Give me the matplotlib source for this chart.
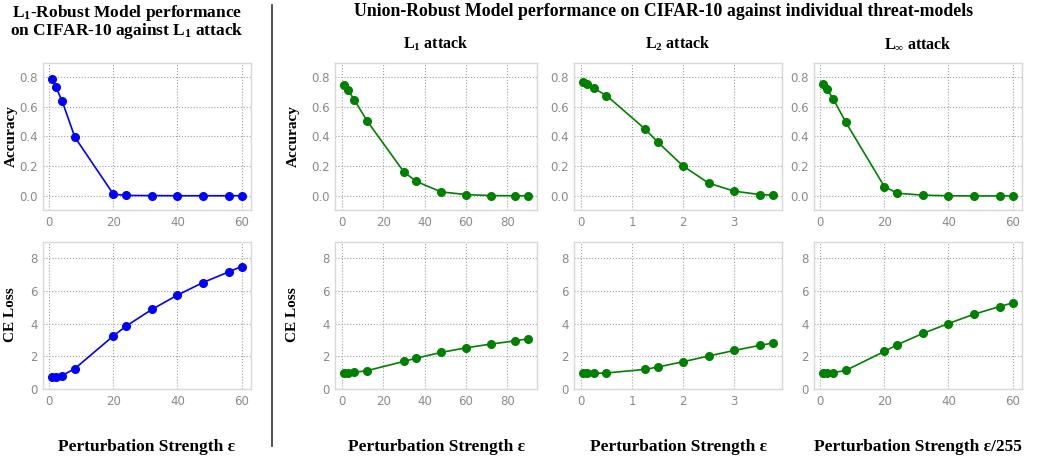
import numpy as np
import matplotlib
matplotlib.use("Agg")
import matplotlib.pyplot as plt

plt.rcParams['mathtext.fontset'] = 'custom'
plt.rcParams['mathtext.rm'] = 'Liberation Serif:bold'
plt.rcParams['mathtext.it'] = 'Liberation Serif:bold'
plt.rcParams['mathtext.bf'] = 'Liberation Serif:bold'
plt.rcParams['mathtext.default'] = 'rm'

SERIF = ['Liberation Serif', 'DejaVu Serif']

# L1-robust model vs L1 attack
eps_l1_robust = [1, 2, 4, 8, 20, 24, 32, 40, 48, 56, 60]
acc_l1_robust = [0.785, 0.735, 0.64, 0.395, 0.012, 0.003, 0.002, 0.001, 0.001, 0.001, 0.001]
loss_l1_robust = [0.72, 0.73, 0.82, 1.25, 3.25, 3.85, 4.87, 5.75, 6.52, 7.17, 7.5]

# union-robust model, L1 attack
eps_l1 = [1, 3, 6, 12, 30, 36, 48, 60, 72, 84, 90]
acc_l1 = [0.748, 0.71, 0.645, 0.507, 0.16, 0.097, 0.027, 0.009, 0.002, 0.001, 0.0]
loss_l1 = [0.98, 0.98, 1.02, 1.12, 1.69, 1.89, 2.24, 2.52, 2.75, 2.95, 3.07]

# union-robust model, L2 attack
eps_l2 = [0.05, 0.125, 0.25, 0.5, 1.25, 1.5, 2.0, 2.5, 3.0, 3.5, 3.75]
acc_l2 = [0.766, 0.752, 0.725, 0.676, 0.452, 0.364, 0.201, 0.086, 0.032, 0.009, 0.005]
loss_l2 = [0.96, 0.96, 0.96, 0.98, 1.2, 1.34, 1.67, 2.02, 2.36, 2.67, 2.81]

# union-robust model, Linf attack
eps_linf = [1, 2, 4, 8, 20, 24, 32, 40, 48, 56, 60]
acc_linf = [0.755, 0.721, 0.655, 0.495, 0.063, 0.018, 0.005, 0.001, 0.0, 0.0, 0.0]
loss_linf = [0.98, 0.98, 1.0, 1.14, 2.3, 2.71, 3.4, 4.01, 4.58, 5.05, 5.27]

W, H = 1038, 457
fig = plt.figure(figsize=(W / 100, H / 100), dpi=100)


def px_axes(x0, x1, y0, y1):
    return fig.add_axes([x0 / W, 1 - y1 / H, (x1 - x0) / W, (y1 - y0) / H])


def style(ax):
    ax.set_facecolor('white')
    for s in ax.spines.values():
        s.set_color('#d8d8d8')
        s.set_linewidth(1.0)
    ax.grid(True, linestyle=':', color='#a0a0a0', linewidth=0.8)
    ax.tick_params(length=0, labelsize=8.5, labelcolor='#8a8a8a', pad=4)


cols = [(43, 251), (335, 537), (574, 782), (814, 1022)]
top_y = (63, 210)
bot_y = (242, 389)

series = [
    (eps_l1_robust, acc_l1_robust, loss_l1_robust, 'blue'),
    (eps_l1, acc_l1, loss_l1, 'green'),
    (eps_l2, acc_l2, loss_l2, 'green'),
    (eps_linf, acc_linf, loss_linf, 'green'),
]
xticks = [[0, 20, 40, 60], [0, 20, 40, 60, 80], [0, 1, 2, 3], [0, 20, 40, 60]]
xlabels = ['Perturbation Strength ε', 'Perturbation Strength ε',
           'Perturbation Strength ε', 'Perturbation Strength ε/255']
ylab_x = [11, 293]

for i, ((x0, x1), (ex, acc, loss, c)) in enumerate(zip(cols, series)):
    ax = px_axes(x0, x1, *top_y)
    style(ax)
    ax.plot(ex, acc, '-o', color=c, lw=1.2, ms=5.5)
    ax.set_ylim(-0.095, 0.895)
    ax.set_yticks([0.0, 0.2, 0.4, 0.6, 0.8])
    ax.set_yticklabels(['0.0', '0.2', '0.4', '0.6', '0.8'])
    ax.set_xticks(xticks[i])

    ax2 = px_axes(x0, x1, *bot_y)
    style(ax2)
    ax2.plot(ex, loss, '-o', color=c, lw=1.2, ms=5.5)
    ax2.set_ylim(0, 9)
    ax2.set_yticks([0, 2, 4, 6, 8])
    ax2.set_xticks(xticks[i])
    ax2.set_xlim(ax.get_xlim())

    cx = (x0 + x1) / 2 / W
    fig.text(cx, 1 - 447 / H, xlabels[i], ha='center', va='center',
             family=SERIF, weight='bold', fontsize=12.5)

    if i < 2:
        fig.text(ylab_x[i] / W, 1 - 136 / H, 'Accuracy', rotation=90, ha='center',
                 va='center', family=SERIF, weight='bold', fontsize=11)
        fig.text(ylab_x[i] / W, 1 - 315 / H, 'CE Loss', rotation=90, ha='center',
                 va='center', family=SERIF, weight='bold', fontsize=11)

# titles
fig.text(127 / W, 1 - 13 / H, r'L$_1$-Robust Model performance', ha='center', va='center',
         family=SERIF, weight='bold', fontsize=12.5)
fig.text(127 / W, 1 - 31 / H, r'on CIFAR-10 against L$_1$ attack', ha='center', va='center',
         family=SERIF, weight='bold', fontsize=12.5)
fig.text(663 / W, 1 - 12 / H,
         'Union-Robust Model performance on CIFAR-10 against individual threat-models',
         ha='center', va='center', family=SERIF, weight='bold', fontsize=12.8)
subtitles = [r'L$_1$ attack', r'L$_2$ attack', r'L$_\infty$ attack']
for (x0, x1), t in zip(cols[1:], subtitles):
    fig.text((x0 + x1) / 2 / W, 1 - 44 / H, t, ha='center', va='center',
             family=SERIF, weight='bold', fontsize=11.5)

# divider
fig.add_artist(plt.Line2D([272 / W, 272 / W], [1 - 5 / H, 1 - 446 / H],
                          color='#333333', lw=1.2))

fig.savefig('out.png', dpi=100, facecolor='white')
